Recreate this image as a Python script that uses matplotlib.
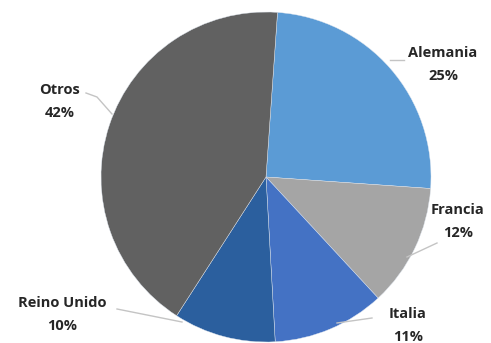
import numpy as np
import matplotlib.pyplot as plt

paises = ["Alemania", "Francia", "Italia", "Reino Unido", "Otros"]
porcentajes = [25, 12, 11, 10, 42]
colores = ["#5b9bd5", "#a5a5a5", "#4472c4", "#2b5f9e", "#616161"]

W, H = 491, 343
fig = plt.figure(figsize=(W / 100, H / 100), dpi=100)
ax = fig.add_axes([0, 0, 1, 1])

cx, cy, r = 266, H - 177, 165
ax.pie(porcentajes, colors=colores, startangle=86, counterclock=False,
       center=(cx, cy), radius=r, wedgeprops=dict(linewidth=0.3, edgecolor="#dfe6ef"))

# posiciones de las etiquetas (pixeles, y hacia abajo) y lineas guia
etiquetas = {
    "Alemania": ((443, 53), [(390, 60), (404, 60)]),
    "Francia": ((458, 210), [(437, 243), (407, 257)]),
    "Italia": ((408, 314), [(372, 318), (337, 323)]),
    "Reino Unido": ((62, 303), [(117, 309), (182, 322)]),
    "Otros": ((60, 90), [(86, 93), (97, 97), (112, 114)]),
}

for nombre, pct in zip(paises, porcentajes):
    (tx, ty), linea = etiquetas[nombre]
    xs = [p[0] for p in linea]
    ys = [H - p[1] for p in linea]
    ax.plot(xs, ys, color="#c4c4c4", lw=1)
    ax.text(tx, H - ty, nombre, ha="center", va="center", fontsize=10.5,
            fontweight="bold", family="Open Sans", color="#262626")
    ax.text(tx, H - ty - 23, f"{pct}%", ha="center", va="center", fontsize=10.5,
            fontweight="bold", family="Open Sans", color="#262626")

ax.set_xlim(0, W)
ax.set_ylim(0, H)
ax.axis("off")
fig.savefig("out.png", dpi=100)
